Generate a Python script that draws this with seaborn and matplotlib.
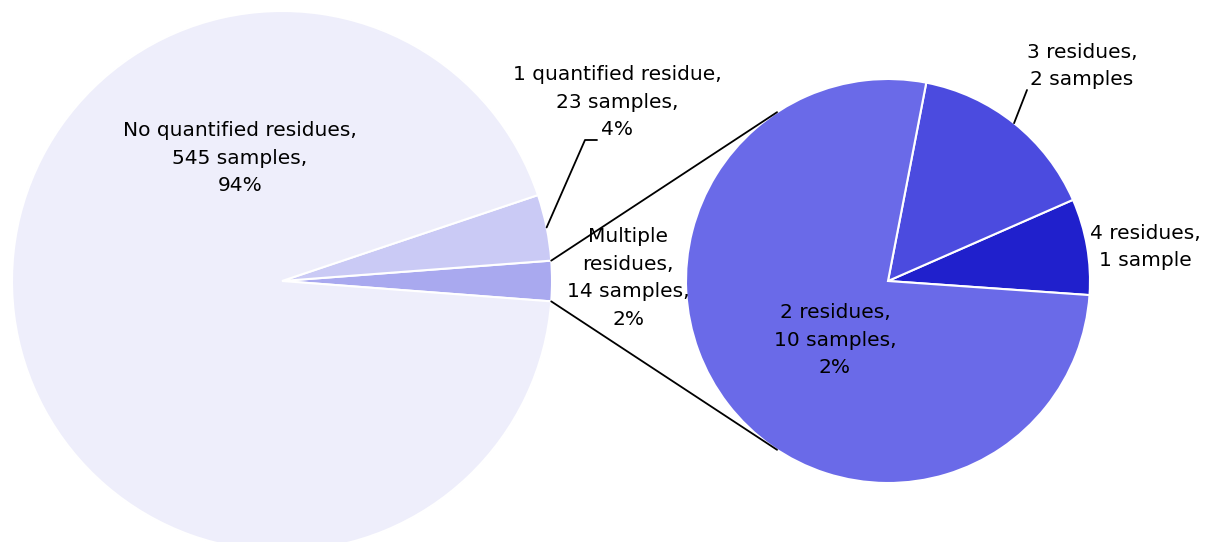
import numpy as np
import seaborn as sns
import matplotlib.pyplot as plt

sns.set_theme(style="white")
plt.rcParams['font.family'] = ['DejaVu Sans']

# outer pie: counter-clockwise from the split slice
main_labels = ["Multiple\nresidues,\n14 samples,\n2%",
               "1 quantified residue,\n23 samples,\n4%",
               "No quantified residues,\n545 samples,\n94%"]
main_counts = [14, 23, 545]
main_colors = ["#A9A9EF", "#CACAF5", "#EEEEFB"]

# breakdown of the "multiple residues" slice
sub_labels = ["4 residues,\n1 sample", "3 residues,\n2 samples",
              "2 residues,\n10 samples,\n2%"]
sub_counts = [1, 2, 10]
sub_colors = ["#2020CC", "#4B4BDF", "#6A6AE8"]

W, H = 1209, 542
fig = plt.figure(figsize=(W / 100, H / 100), dpi=100)
ax = fig.add_axes([0, 0, 1, 1])

c1, r1 = (282, 261), 270
c2, r2 = (888, 261), 202
fs = 14.5

start1 = -main_counts[0] / sum(main_counts) * 360 / 2
w1, _ = ax.pie(main_counts, colors=main_colors, center=c1, radius=r1,
               startangle=start1, counterclock=True, frame=True,
               wedgeprops=dict(edgecolor="white", linewidth=1.5))
w2, _ = ax.pie(sub_counts, colors=sub_colors, center=c2, radius=r2,
               startangle=-4, counterclock=True, frame=True,
               wedgeprops=dict(edgecolor="white", linewidth=1.5))
ax.set_xlim(0, W)
ax.set_ylim(0, H)
ax.set_aspect("equal")
ax.axis("off")


def on_edge(c, r, ang):
    a = np.deg2rad(ang)
    return c[0] + r * np.cos(a), c[1] + r * np.sin(a)


# tangent lines from the split slice to the second pie
for ang in (w1[0].theta1, w1[0].theta2):
    px, py = on_edge(c1, r1, ang)
    dx, dy = px - c2[0], py - c2[1]
    d = np.hypot(dx, dy)
    base = np.degrees(np.arctan2(dy, dx))
    off = np.degrees(np.arccos(r2 / d))
    t = base - off if ang > 0 else base + off
    tx, ty = on_edge(c2, r2, t)
    ax.plot([px, tx], [py, ty], color="black", lw=1.3, zorder=5)

# leader lines
mid = (w1[1].theta1 + w1[1].theta2) / 2
sx, sy = on_edge(c1, r1, mid)
ax.plot([sx, 585, 597], [sy, H - 140, H - 140], color="black", lw=1.3)
mid = (w2[1].theta1 + w2[1].theta2) / 2
sx, sy = on_edge(c2, r2, mid)
ax.plot([sx, 1027], [sy, H - 90], color="black", lw=1.3)

label_pos = {
    main_labels[2]: (240, 158),
    main_labels[1]: (617, 102),
    main_labels[0]: (628, 278),
    sub_labels[2]: (835, 340),
    sub_labels[1]: (1082, 66),
    sub_labels[0]: (1145, 247),
}
for txt, (x, y) in label_pos.items():
    ax.text(x, H - y, txt, ha="center", va="center", fontsize=fs,
            color="black", linespacing=1.58, zorder=6)

fig.savefig("out.png", dpi=100)
